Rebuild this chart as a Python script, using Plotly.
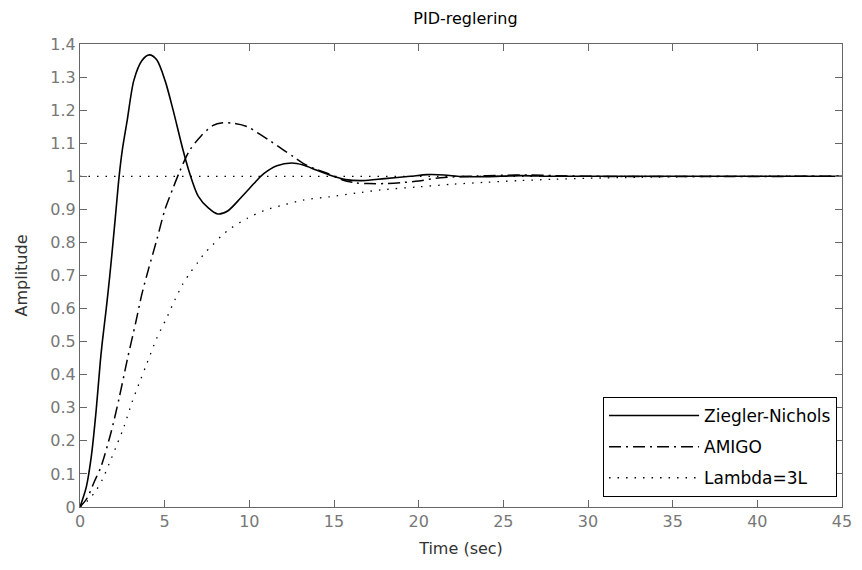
import plotly.graph_objects as go

# ---- data ----
zn_t = [0, 0.37, 0.66, 0.95, 1.2, 1.32, 1.55, 1.76, 1.95, 2.13, 2.31, 2.5, 2.79, 3.18, 3.66, 4.1, 4.53, 5.02, 5.5,
        6.08, 6.47, 6.98, 7.56, 8.14, 8.72, 9.5, 10.27, 10.85, 11.63, 12.5, 13.18, 13.95, 14.73,
        15.7, 16.7, 18.0, 19.5, 20.5, 21.5, 22.5, 24, 26, 28, 32, 45]
zn_y = [0, 0.06, 0.15, 0.29, 0.44, 0.5, 0.6, 0.7, 0.8, 0.9, 1.0, 1.08, 1.17, 1.29, 1.35, 1.367, 1.352, 1.29, 1.20,
        1.08, 1.01, 0.94, 0.905, 0.886, 0.895, 0.935, 0.978, 1.008, 1.032, 1.04, 1.034, 1.019, 1.004,
        0.99, 0.987, 0.993, 1.0, 1.005, 1.004, 0.999, 0.999, 1.002, 1.0, 1.0, 1.0]

amigo_t = [0, 0.4, 0.85, 1.24, 1.82, 2.31, 2.79, 3.28, 3.66, 4.05, 4.53, 5.02, 5.5, 5.89, 6.47, 7.15,
           7.83, 8.43, 9.1, 9.88, 10.47, 11.14, 12.0, 12.6, 13.18, 13.95, 14.7, 15.5, 16.3, 17.05,
           18, 19, 20, 21, 22, 23, 25, 26.5, 28, 30, 45]
amigo_y = [0, 0.025, 0.077, 0.122, 0.223, 0.329, 0.445, 0.555, 0.645, 0.72, 0.807, 0.9, 0.965, 1.015, 1.078, 1.122,
           1.153, 1.162, 1.16, 1.15, 1.132, 1.11, 1.08, 1.059, 1.039, 1.021, 1.007, 0.989, 0.98, 0.978,
           0.978, 0.981, 0.986, 0.994, 0.998, 1.0, 1.003, 1.004, 1.002, 1.0, 1.0]

lam_t = [0, 0.47, 0.95, 1.34, 1.73, 2.17, 2.6, 3.08, 3.57, 3.95, 4.53, 5.12, 5.6, 6.08, 6.5, 6.96,
         7.35, 7.83, 8.33, 8.91, 9.88, 10.95, 12.0, 13.18, 14.73, 16.3, 17.8, 20, 22, 24, 26, 28,
         30, 33, 36, 40, 45]
lam_y = [0, 0.02, 0.05, 0.085, 0.132, 0.187, 0.243, 0.318, 0.384, 0.434, 0.51, 0.572, 0.626, 0.675, 0.708, 0.74,
         0.767, 0.792, 0.819, 0.843, 0.873, 0.898, 0.913, 0.928, 0.938, 0.949, 0.959, 0.968, 0.976, 0.982, 0.987, 0.991,
         0.994, 0.997, 0.999, 1.0, 1.0]

ss_t = [0, 45]
ss_y = [1, 1]

x_ticks = [0, 5, 10, 15, 20, 25, 30, 35, 40, 45]
y_ticks = [0, 0.1, 0.2, 0.3, 0.4, 0.5, 0.6, 0.7, 0.8, 0.9, 1.0, 1.1, 1.2, 1.3, 1.4]
y_tick_text = ["0", "0.1", "0.2", "0.3", "0.4", "0.5", "0.6", "0.7", "0.8", "0.9", "1", "1.1", "1.2", "1.3", "1.4"]

FONT = "DejaVu Sans"

fig = go.Figure()
fig.add_trace(go.Scatter(x=ss_t, y=ss_y, mode="lines", showlegend=False,
                         line=dict(color="black", width=1.3, dash="1.5px,7px"), hoverinfo="skip"))
fig.add_trace(go.Scatter(x=zn_t, y=zn_y, mode="lines", name="Ziegler-Nichols", legendgroup="a",
                         line=dict(color="black", width=1.6, shape="spline", smoothing=0.8)))
fig.add_trace(go.Scatter(x=amigo_t, y=amigo_y, mode="lines", name="AMIGO", legendgroup="b",
                         line=dict(color="black", width=1.5, dash="12px,5px,2px,5px", shape="spline", smoothing=0.8)))
fig.add_trace(go.Scatter(x=lam_t, y=lam_y, mode="lines", name="Lambda=3L", legendgroup="c",
                         line=dict(color="black", width=1.3, dash="1.5px,7px", shape="spline", smoothing=0.8)))

axis_common = dict(showgrid=False, zeroline=False, showline=True, linecolor="#666666", linewidth=1,
                   mirror="ticks", ticks="inside", ticklen=7, tickcolor="#666666", tickwidth=1,
                   tickfont=dict(family=FONT, size=16, color="#777777"))

fig.update_xaxes(range=[0, 45], tickvals=x_ticks, ticktext=[str(v) for v in x_ticks],
                 ticklabeloverflow="allow",
                 title=dict(text="Time (sec)", font=dict(family=FONT, size=16, color="#333333"), standoff=12),
                 **axis_common)
fig.update_yaxes(range=[0, 1.4], tickvals=y_ticks, ticktext=y_tick_text,
                 title=dict(text="Amplitude", font=dict(family=FONT, size=16, color="#333333"), standoff=18),
                 **axis_common)

fig.update_layout(
    width=862, height=570,
    margin=dict(l=80, r=10, t=44, b=63),
    paper_bgcolor="white", plot_bgcolor="white",
    title=dict(text="PID-reglering", x=0.54, xanchor="center", y=0.968, yanchor="middle",
               font=dict(family=FONT, size=16, color="black")),
    legend=dict(x=0.9935, y=0.0216, xanchor="right", yanchor="bottom",
                bgcolor="white", bordercolor="black", borderwidth=1,
                font=dict(family=FONT, size=17, color="black"),
                itemwidth=90, tracegroupgap=6),
    showlegend=True,
)

fig.write_html("out.html")
